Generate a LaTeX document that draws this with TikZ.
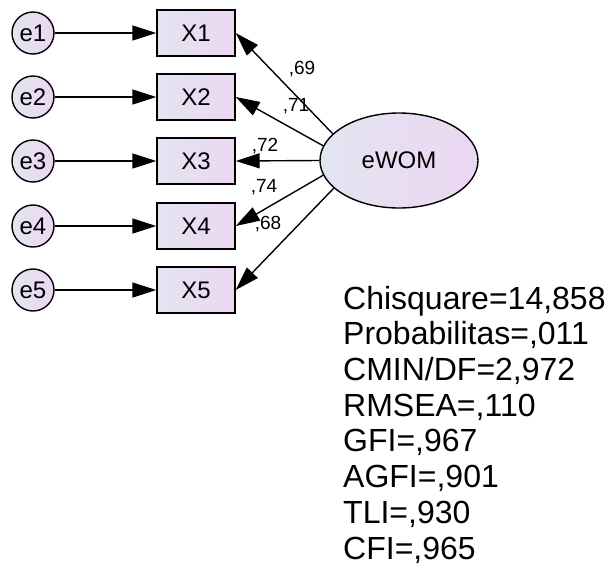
\documentclass[tikz,border=0pt]{standalone}
\usepackage{fontspec}
\setmainfont{Liberation Sans}
\usetikzlibrary{arrows.meta,shapes.geometric}
\definecolor{gradL}{RGB}{226,229,241}
\definecolor{gradR}{RGB}{237,214,242}
\tikzset{
  errnode/.style={circle,draw=black,line width=1.4pt,minimum size=42pt,inner sep=0pt,
    left color=gradL,right color=gradR,font=\fontsize{24}{28}\selectfont},
  obsbox/.style={rectangle,draw=black,line width=1.4pt,minimum width=78pt,minimum height=46pt,inner sep=0pt,
    left color=gradL,right color=gradR,font=\fontsize{24}{28}\selectfont},
  latnode/.style={ellipse,draw=black,line width=1.4pt,minimum width=158pt,minimum height=95pt,inner sep=0pt,
    left color=gradL,right color=gradR,font=\fontsize{24}{28}\selectfont},
  conn/.style={line width=1.4pt,-{Triangle[length=24pt,width=15pt]}},
  loadlab/.style={font=\fontsize{19}{22}\selectfont,inner sep=0pt},
}
\begin{document}
\begin{tikzpicture}[x=1pt,y=-1pt]
\useasboundingbox (0,0) rectangle (608,568);
\foreach \i/\y in {1/33,2/97,3/161,4/226,5/290}{
  \node[errnode] (e\i) at (33,\y) {e\i};
  \node[obsbox] (X\i) at (196,\y) {X\i};
  \draw[conn] (e\i) -- (X\i);
}
\node[latnode] (ew) at (399,160.5) {eWOM};
\draw[conn] (ew.158) -- (X1.east);
\draw[conn] (ew.169) -- (X2.east);
\draw[conn] (ew.180) -- (X3.east);
\draw[conn] (ew.191) -- (X4.east);
\draw[conn] (ew.203) -- (X5.east);
\node[loadlab] (l1) at (302,69) {,69};
\node[loadlab] (l2) at (296,106) {,71};
\node[loadlab] (l3) at (265,146) {,72};
\node[loadlab] (l4) at (264,187) {,74};
\node[loadlab] (l5) at (268,224) {,68};
\node[anchor=base west,align=left,inner sep=0pt,font=\fontsize{32}{35.7}\selectfont] (fit) at (343,559)
{Chisquare=14,858\\Probabilitas=,011\\CMIN/DF=2,972\\RMSEA=,110\\GFI=,967\\AGFI=,901\\TLI=,930\\CFI=,965};
\end{tikzpicture}
\end{document}
